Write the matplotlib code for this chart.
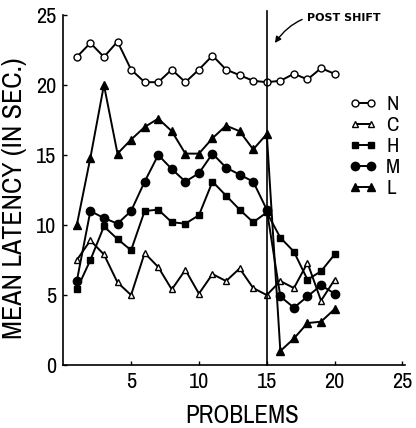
import matplotlib
matplotlib.use("Agg")
import matplotlib.pyplot as plt
from matplotlib import font_manager

# pick a narrow sans if one is installed, otherwise Liberation Sans
names = sorted({f.name for f in font_manager.fontManager.ttflist})
narrow = [n for n in names if 'Narrow' in n or 'Condensed' in n]
FONT = narrow[0] if narrow else 'Liberation Sans'
plt.rcParams['font.family'] = [FONT, 'DejaVu Sans']

# data
problems = list(range(1, 21))
N = [22.0, 23.0, 22.0, 23.1, 21.1, 20.2, 20.2, 21.1, 20.2, 21.1,
     22.1, 21.1, 20.7, 20.3, 20.2, 20.3, 20.8, 20.4, 21.2, 20.8]
C = [7.5, 8.9, 7.9, 5.9, 5.0, 8.0, 7.0, 5.4, 6.8, 5.1,
     6.5, 6.0, 6.9, 5.5, 5.0, 6.0, 5.5, 7.3, 4.6, 6.1]
H = [5.4, 7.5, 9.9, 9.0, 8.2, 11.0, 11.1, 10.2, 10.1, 10.7,
     13.1, 12.1, 11.1, 10.2, 10.9, 9.1, 8.1, 6.1, 6.7, 7.9]
M = [6.0, 11.0, 10.5, 10.1, 11.0, 13.1, 15.0, 14.0, 13.1, 13.7,
     15.1, 14.1, 13.6, 13.1, 11.1, 4.9, 4.1, 4.9, 5.7, 5.1]
L = [10.0, 14.8, 20.0, 15.1, 16.1, 17.0, 17.6, 16.7, 15.1, 15.1,
     16.2, 17.1, 16.7, 15.4, 16.5, 1.0, 1.9, 3.0, 3.1, 4.0]
SHIFT_AT = 15
xticks = [5, 10, 15, 20, 25]
yticks = [0, 5, 10, 15, 20, 25]

fig = plt.figure(figsize=(4.16, 4.28), dpi=100)
ax = fig.add_axes([0.152, 0.147, 0.822, 0.818])

series = [
    ('N', N, dict(marker='o', mfc='white', ms=5)),
    ('C', C, dict(marker='^', mfc='white', ms=5)),
    ('H', H, dict(marker='s', mfc='black', ms=4)),
    ('M', M, dict(marker='o', mfc='black', ms=6)),
    ('L', L, dict(marker='^', mfc='black', ms=6)),
]
for name, vals, st in series:
    ax.plot(problems, vals, color='black', lw=1.4, mec='black', mew=1.0,
            label=name, **st)

ax.plot([SHIFT_AT, SHIFT_AT], [0, 25.3], color='black', lw=1.2, clip_on=False)
ax.annotate('POST SHIFT', xy=(15.6, 23.0), xytext=(18.0, 24.8),
            fontsize=8, fontweight='bold', va='center', ha='left',
            family='DejaVu Sans',
            arrowprops=dict(arrowstyle='-|>', color='black', lw=1.0,
                            connectionstyle='arc3,rad=0.35',
                            shrinkA=2, shrinkB=0, mutation_scale=9))

ax.set_xlim(0, 25.2)
ax.set_ylim(0, 25)
ax.set_xticks(xticks)
ax.set_yticks(yticks)
ax.tick_params(direction='in', length=3, width=1, labelsize=16, pad=5)
for s in ['top', 'right']:
    ax.spines[s].set_visible(False)
for s in ['left', 'bottom']:
    ax.spines[s].set_linewidth(1.2)

ax.set_xlabel('PROBLEMS', fontsize=18)
ax.xaxis.set_label_coords(0.522, -0.112)
ylab_size = 20 if narrow else 16
ax.set_ylabel('MEAN LATENCY (IN SEC.)', fontsize=ylab_size)
ax.yaxis.set_label_coords(-0.106, 0.477)

ax.legend(loc='upper left', bbox_to_anchor=(0.81, 0.795), frameon=False,
          numpoints=2, handlelength=1.4, handletextpad=0.4,
          labelspacing=0.1, fontsize=15, borderaxespad=0)

fig.savefig('out.png', dpi=100)
